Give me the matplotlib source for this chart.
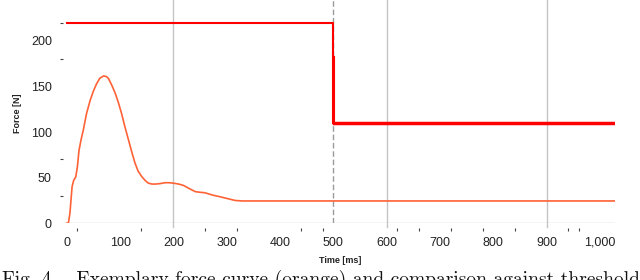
import numpy as np
import matplotlib.pyplot as plt

# Kraftkurve (orange)
t_force = [0, 3, 6, 10, 13, 17, 20, 23, 27, 31, 37, 44, 50, 56, 62, 69, 74, 78,
           84, 91, 97, 103, 109, 116, 122, 128, 134, 141, 147, 153, 160, 166,
           175, 184, 192, 200, 210, 219, 230, 241, 250, 259, 273, 288, 302, 316,
           330, 344, 400, 500, 600, 700, 800, 900, 1028]
force = [0, 0, 11, 40, 47, 51, 62, 80, 92, 102, 120, 135, 145, 153, 159, 161.5,
         161, 159, 152, 142.5, 132, 120, 106, 91, 78, 66, 57, 51, 47, 44, 43, 43,
         43.5, 44.5, 44.5, 44, 43, 41.5, 38, 34.7, 34, 33.5, 31, 29, 27, 25,
         24.5, 24.5, 24.5, 24.5, 24.5, 24.5, 24.5, 24.5, 24.5]

# Schwellwerte (rot)
t_thr1 = [0, 499, 499]
thr1 = [220, 220, 110]
t_thr2 = [502, 502, 1028]
thr2 = [182, 110, 110]

x_ticks = [0, 100, 200, 300, 400, 500, 600, 700, 800, 900, 1000]
x_labels = ['0', '100', '200', '300', '400', '500', '600', '700', '800', '900', '1,000']
x_minor = [20, 140, 200, 260, 320, 440, 480, 500, 600, 620, 660, 720, 780, 840, 900, 940, 960]
y_ticks = [0, 50, 100, 150, 200]
y_minor = [30, 70, 180, 220]
grid_x = [200, 600, 900]

fig = plt.figure(figsize=(6.4, 2.8), dpi=100)
ax = fig.add_axes([63 / 640, (280 - 223.3) / 280, 552 / 640, 223.3 / 280])

for g in grid_x:
    ax.axvline(g, ymin=-0.018, color='#c4c4c4', lw=1, clip_on=False, zorder=1)
ax.axvline(500, color='#9a9a9a', lw=1, dashes=(4, 2), zorder=1)
ax.axhline(0, color='#cccccc', lw=1, zorder=1)

ax.plot(t_force, force, color='#ff6236', lw=1.2, zorder=3)
ax.plot(t_thr1, thr1, color='#ff0000', lw=1.5, zorder=4)
ax.plot(t_thr2[:2], thr2[:2], color='#ff0000', lw=1.5, zorder=4)
ax.plot(t_thr2[1:], thr2[1:], color='#ff0000', lw=2.5, zorder=4)

ax.set_xlim(-7, 1028)
ax.set_ylim(0, 244.8)

for s in ['top', 'right']:
    ax.spines[s].set_visible(False)
ax.spines['bottom'].set_position(('outward', 3.6))
ax.spines['bottom'].set_visible(False)
ax.spines['left'].set_visible(False)

ax.set_xticks(x_ticks)
ax.set_xticklabels(x_labels)
ax.set_xticks(x_minor, minor=True)
ax.set_yticks(y_ticks)
ax.set_yticks(y_minor, minor=True)

ax.tick_params(axis='x', which='major', length=0, pad=6, labelsize=9, labelcolor='#222222')
ax.tick_params(axis='x', which='minor', length=2.2, width=0.8, color='#444444', direction='out')
ax.tick_params(axis='y', which='major', length=0, pad=8, labelsize=9, labelcolor='#222222')
ax.tick_params(axis='y', which='minor', length=2, width=0.8, color='#444444', direction='out')
for lbl in ax.get_xticklabels() + ax.get_yticklabels():
    lbl.set_family('Liberation Sans')

ax.set_xlabel('Time [ms]', fontsize=6.5, fontweight='bold', family='Liberation Sans',
              color='#222222')
ax.set_ylabel('Force [N]', fontsize=6.5, fontweight='bold', family='Liberation Sans',
              color='#222222')
ax.xaxis.set_label_coords((340 - 63) / 552, -(256 - 223.3) / 223.3)
ax.yaxis.set_label_coords(-(63 - 22) / 552, (223.3 - 113.5) / 223.3)

fig.text(0.003, (280 - 285) / 280,
         'Fig. 4.   Exemplary force curve (orange) and comparison against thresholds',
         family='cmr10', fontsize=14.05, va='baseline', ha='left', color='#111111')

fig.savefig('out.png', dpi=100)
